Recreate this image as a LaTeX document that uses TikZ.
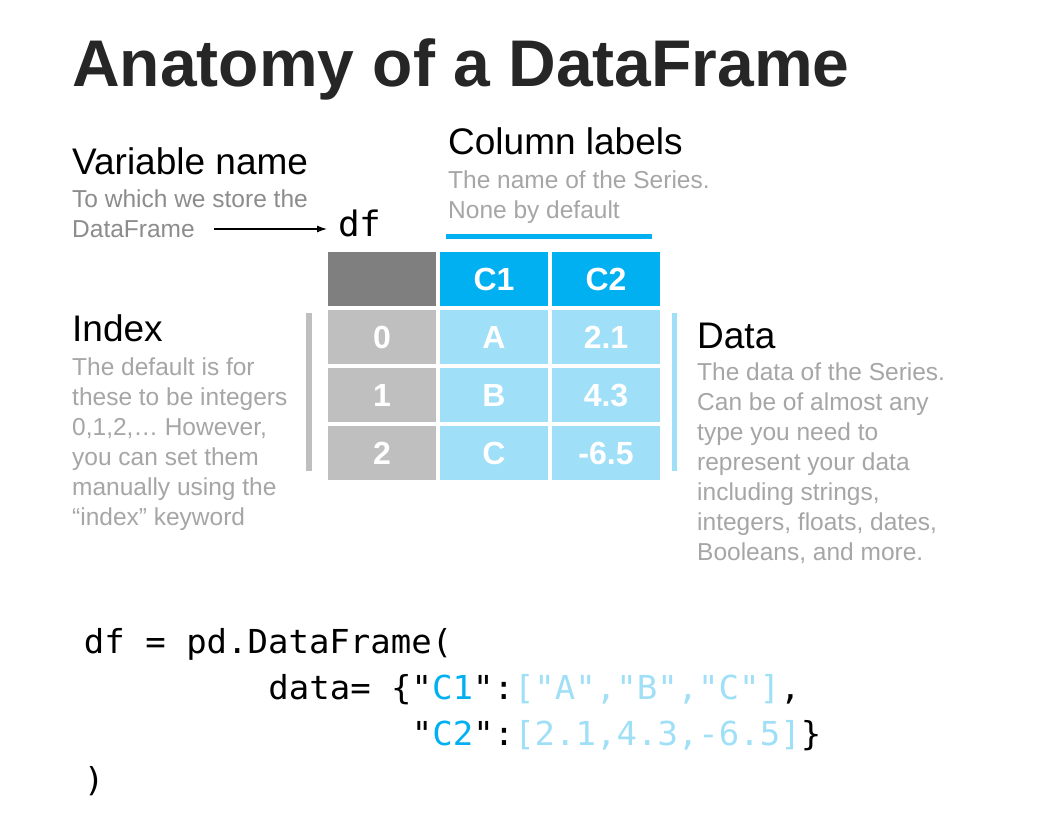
\documentclass[tikz,border=0pt]{standalone}
\usepackage{fontspec}
\setmainfont{Liberation Sans}
\newfontfamily\codefont[FakeStretch=1.03]{DejaVu Sans Mono}
\usetikzlibrary{arrows.meta}

\definecolor{titlegray}{HTML}{262626}
\definecolor{notegray}{HTML}{A6A6A6}
\definecolor{vargray}{HTML}{8C8C8C}
\definecolor{hdrgray}{HTML}{7F7F7F}
\definecolor{idxgray}{HTML}{BFBFBF}
\definecolor{pyblue}{HTML}{00B0F0}
\definecolor{lightblue}{HTML}{9FDFF7}

\tikzset{
    title/.style={anchor=base west, inner sep=0pt, text=titlegray,
        font=\bfseries\fontsize{66}{70}\selectfont},
    head/.style={anchor=base west, inner sep=0pt, font=\fontsize{37}{44}\selectfont},
    % multi-line: placed at the baseline of the last line
    note/.style={anchor=base west, inner sep=0pt, align=left, text=notegray,
        font=\fontsize{24.5}{30}\selectfont},
    cell/.style={minimum width=108pt, minimum height=54pt, inner sep=0pt,
        text=white, font=\bfseries\fontsize{32}{36}\selectfont},
    codeline/.style={anchor=base west, inner sep=0pt,
        font=\codefont\fontsize{33}{40}\selectfont},
}

\begin{document}
\begin{tikzpicture}[x=1pt, y=-1pt, >={Latex[length=10pt,width=7pt]}]
        \fill[white] (0,0) rectangle (1056,822);
        \useasboundingbox (0,0) rectangle (1056,822);
        % title
        \node[title] (title) at (72,86) {Anatomy of a DataFrame};
        % variable name and the arrow to df
        \node[head] (varhead) at (72,174) {Variable name};
        \node[note, text=vargray] (varnote) at (72,237) {To which we store the\\DataFrame};
        \node[codeline, font=\codefont\fontsize{35}{40}\selectfont] (df) at (338,236) {df};
        \coordinate (varend) at (214,229);
        \draw[->, line width=1.3pt, shorten >=11pt] (varend) -- (varend -| df.west);
        % column labels
        \node[head] (colhead) at (448,154) {Column labels};
        \node[note] (colnote) at (448,218) {The name of the Series.\\None by default};
        \fill[pyblue] (446,234) rectangle (652,239);
        % the table
        \node[cell, fill=hdrgray] (corner) at (382,279) {};
        \node[cell, fill=pyblue] (c1) at (494,279) {C1};
        \node[cell, fill=pyblue] (c2) at (606,279) {C2};
        \foreach \r/\va/\vb in {0/A/2.1, 1/B/4.3, 2/C/-6.5} {
            \node[cell, fill=idxgray] (i\r) at (382,{337+58*\r}) {\r};
            \node[cell, fill=lightblue] (a\r) at (494,{337+58*\r}) {\va};
            \node[cell, fill=lightblue] (b\r) at (606,{337+58*\r}) {\vb};
        }
        % index and data
        \fill[idxgray] (306,313) rectangle (312,471);
        \fill[lightblue] (672,313) rectangle (677,471);
        \node[head] (idxhead) at (72,341) {Index};
        \node[note] (idxnote) at (72,525) {The default is for\\these to be integers\\0,1,2,… However,\\you can set them\\manually using the\\“index” keyword};
        \node[head] (datahead) at (697,348) {Data};
        \node[note] (datanote) at (697,560) {The data of the Series.\\Can be of almost any\\type you need to\\represent your data\\including strings,\\integers, floats, dates,\\Booleans, and more.};
        % the code
        \node[codeline] (code1) at (83.75,653) {df = pd.DataFrame(};
        \node[codeline] (code2) at (268.25,699) {data= \{"\textcolor{pyblue}{C1}":\textcolor{lightblue}{["A","B","C"]},};
        \node[codeline] (code3) at (411.75,745) {"\textcolor{pyblue}{C2}":\textcolor{lightblue}{[2.1,4.3,-6.5]}\}};
        \node[codeline] (code4) at (83.75,791) {)};
    \end{tikzpicture}
\end{document}
